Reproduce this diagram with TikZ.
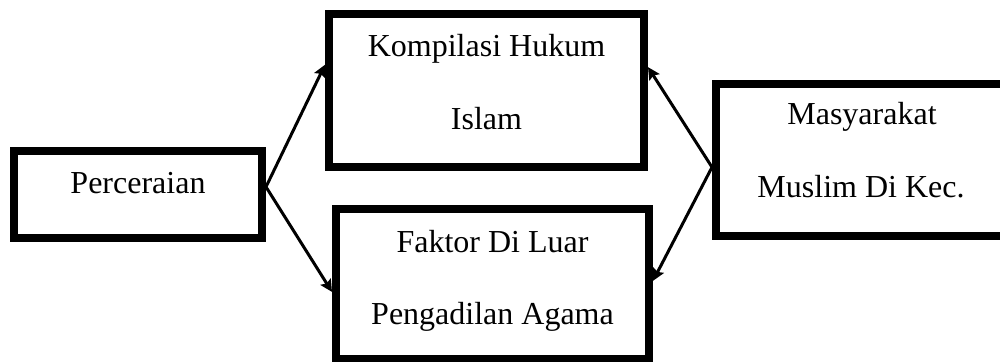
\documentclass[tikz,border=0pt]{standalone}
\usepackage{fontspec}
\setmainfont{Liberation Serif}
\usetikzlibrary{arrows.meta,calc}
\begin{document}
\begin{tikzpicture}[x=0.5pt,y=-0.5pt,
  box/.style={draw, line width=4pt, inner sep=0pt, outer sep=2pt, rectangle},
  txt/.style={font=\fontsize{16}{16}\selectfont, inner sep=0pt, anchor=base},
  arr/.style={line width=1.5pt, -{Stealth[length=6pt,width=6pt,inset=1pt]}}]
\path[use as bounding box, clip] (0,0) rectangle (1000,362);
% boxes
\node[box, minimum width=124pt, minimum height=43.5pt] (p) at (138,194.5) {};
\node[box, minimum width=157.5pt, minimum height=76.5pt] (k) at (486.5,90.5) {};
\node[box, minimum width=156.5pt, minimum height=75pt] (f) at (492.5,284) {};
\node[box, minimum width=147pt, minimum height=76pt] (m) at (863,160) {};
% texts
\node[txt] (tp) at (138,194) {Perceraian};
\node[txt] (tk1) at (486.5,57) {Kompilasi Hukum};
\node[txt] (tk2) at (486.5,130) {Islam};
\node[txt] (tf1) at (492.5,253) {Faktor Di Luar};
\node[txt] (tf2) at (492.5,325) {Pengadilan Agama};
\node[txt] (tm1) at (862,125) {Masyarakat};
\node[txt] (tm2) at (861,198) {Muslim Di Kec.};
% connectors
\coordinate (pe) at ($(p.north east)!0.42!(p.south east)$);
\coordinate (mw) at ($(m.north west)!0.545!(m.south west)$);
\draw[arr] (pe) -- ($(k.north west)!0.34!(k.south west)$);
\draw[arr] (pe) -- ($(f.north west)!0.55!(f.south west)$);
\draw[arr] (mw) -- ($(k.north east)!0.355!(k.south east)$);
\draw[arr] (mw) -- ($(f.north east)!0.48!(f.south east)$);
\end{tikzpicture}
\end{document}
